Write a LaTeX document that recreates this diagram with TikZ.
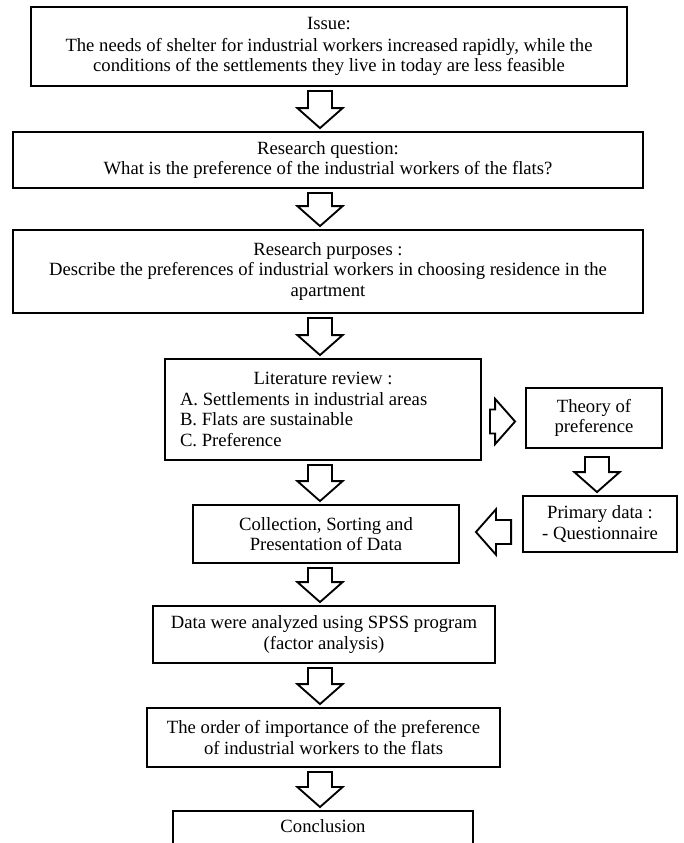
\documentclass[tikz,border=0pt]{standalone}
\usepackage{fontspec}
\setmainfont{Liberation Serif}
\usetikzlibrary{calc}

\tikzset{
  box/.style={draw, line width=1.4pt, align=center, inner sep=0pt,
    font=\fontsize{14}{15.5}\selectfont},
  hollow/.style={draw, line width=1.4pt, fill=white, line join=miter},
}

% hollow block arrow from a tail coordinate to a tip coordinate
\newcommand{\hollowarrow}[2]{%
  \coordinate (hb) at ($(#2)!15pt!(#1)$);
  \draw[hollow] ($(#1)!9pt!90:(#2)$) -- ($(hb)!9pt!90:(#2)$)
    -- ($(hb)!17pt!90:(#2)$) -- (#2) -- ($(hb)!17pt!-90:(#2)$)
    -- ($(hb)!9pt!-90:(#2)$) -- ($(#1)!9pt!-90:(#2)$) -- cycle;}

\begin{document}
\begin{tikzpicture}[x=0.75pt, y=0.75pt]
\clip (0,0) rectangle (683,-843);
\coordinate (spine) at (320,0);

% ================= Main column =================
\node[box, minimum width=447pt, minimum height=59.25pt] (issue) at (329,-46.5)
  {Issue:\\[1pt]
   The needs of shelter for industrial workers increased rapidly, while the\\
   conditions of the settlements they live in today are less feasible};

\node[box, minimum width=472.5pt, minimum height=42pt] (question) at (328,-160)
  {Research question:\\
   What is the preference of the industrial workers of the flats?};

\node[box, minimum width=472.5pt, minimum height=62.25pt] (purpose) at (328,-271.5)
  {Research purposes :\\
   Describe the preferences of industrial workers in choosing residence in the\\
   apartment};

\node[box, minimum width=237pt, minimum height=75.75pt, inner xsep=11.25pt,
  text width=214.5pt, align=flush left] (review) at (323,-409.5)
  {\makebox[214.5pt]{Literature review :}\\
   A. Settlements in industrial areas\\
   B. Flats are sustainable\\
   C. Preference};

\node[box, minimum width=199.5pt, minimum height=43.5pt] (collect) at (326,-534)
  {Collection, Sorting and\\Presentation of Data};

\node[box, minimum width=256.5pt, minimum height=42.75pt] (analysis) at (324,-634.5)
  {Data were analyzed using SPSS program\\(factor analysis)};

\node[box, minimum width=264.75pt, minimum height=44.25pt] (order) at (323.5,-737.5)
  {The order of importance of the preference\\of industrial workers to the flats};

% runs past the lower edge of the picture
\node[box, minimum width=225pt, anchor=north, inner ysep=7.25pt,
  text height=9pt, text depth=14pt] (concl) at (323,-810) {Conclusion};

% ================= Side column =================
\node[box, minimum width=102pt, minimum height=45pt] (theory) at (594,-418)
  {Theory of\\preference};

\node[box, minimum width=115.5pt, minimum height=42pt] (primary) at (600,-524)
  {Primary data :\\- Questionnaire};

% ================= Arrows =================
\foreach \a/\b in {issue/question, question/purpose, purpose/review,
  review/collect, collect/analysis, analysis/order, order/concl}{
  \coordinate (tail) at ($(\a.south -| spine)+(0,-4)$);
  \coordinate (tip) at ($(\b.north -| spine)+(0,3)$);
  \hollowarrow{tail}{tip}
}

\coordinate (rtail) at ($(review.east)+(8,-12)$);
\coordinate (rtip) at ($(rtail -| theory.west)+(-10,0)$);
\hollowarrow{rtail}{rtip}

\coordinate (dtail) at ($(theory.south)+(3,-8)$);
\coordinate (dtip) at ($(dtail |- primary.north)+(0,3)$);
\hollowarrow{dtail}{dtip}

\coordinate (ltail) at ($(primary.west)+(-11,-8)$);
\coordinate (ltip) at ($(ltail -| collect.east)+(16,0)$);
\hollowarrow{ltail}{ltip}
\end{tikzpicture}
\end{document}
